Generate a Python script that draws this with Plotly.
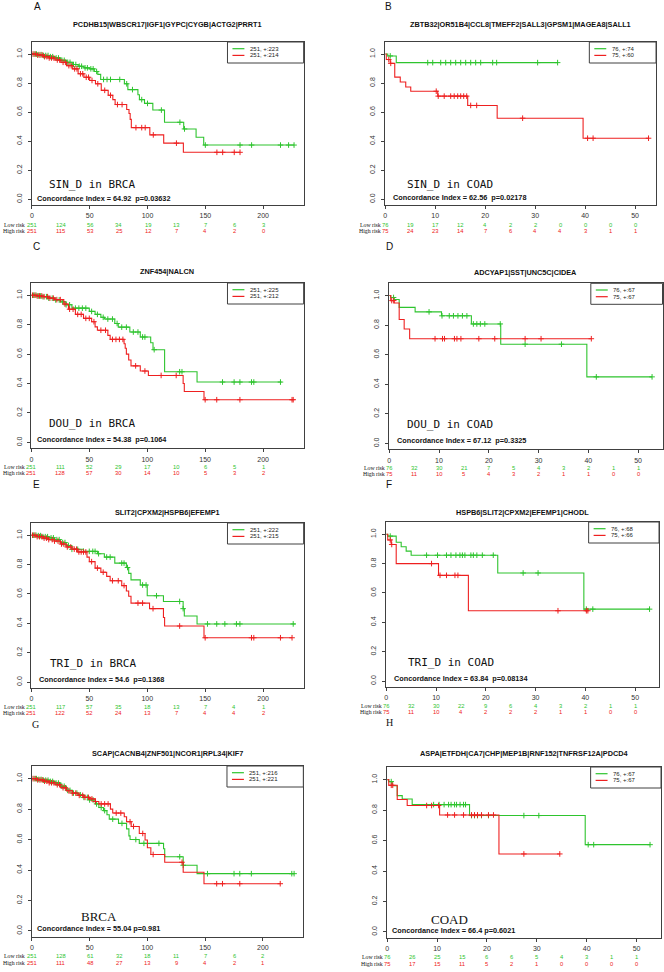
import plotly.graph_objects as go

W, H = 664, 972
GREEN = "#2ec42e"
RED = "#ee2020"
AXC = "#404040"

# ---------------- titles / labels ----------------
TITLES = ["PCDHB15|WBSCR17|IGF1|GYPC|CYGB|ACTG2|PRRT1",
          "ZBTB32|OR51B4|CCL8|TMEFF2|SALL3|GPSM1|MAGEA8|SALL1",
          "ZNF454|NALCN",
          "ADCYAP1|SST|UNC5C|CIDEA",
          "SLIT2|CPXM2|HSPB6|EFEMP1",
          "HSPB6|SLIT2|CPXM2|EFEMP1|CHODL",
          "SCAP|CACNB4|ZNF501|NCOR1|RPL34|KIF7",
          "ASPA|ETFDH|CA7|CHP|MEP1B|RNF152|TNFRSF12A|PDCD4"]
LETTERS = ["A", "B", "C", "D", "E", "F", "G", "H"]
BIG_LABELS = ["SIN_D in BRCA", "SIN_D in COAD", "DOU_D in BRCA", "DOU_D in COAD",
              "TRI_D in BRCA", "TRI_D in COAD", "BRCA", "COAD"]
CI_TEXT = ["Concordance Index = 64.92  p=0.03632",
           "Concordance Index = 62.56  p=0.02178",
           "Concordance Index = 54.38  p=0.1064",
           "Concordance Index = 67.12  p=0.3325",
           "Concordance Index = 54.6  p=0.1368",
           "Concordance Index = 63.84  p=0.08134",
           "Concordance Index = 55.04 p=0.981",
           "Concordance Index = 66.4 p=0.6021"]
LEG_LOW = ["251, +:223", "76, +:74", "251, +:225", "76, +:67",
           "251, +:222", "76, +:68", "251, +:216", "76, +:67"]
LEG_HIGH = ["251, +:214", "75, +:60", "251, +:212", "75, +:67",
            "251, +:215", "75, +:66", "251, +:221", "75, +:67"]

# ---------------- axis ticks ----------------
BRCA_xticks = [0, 50, 100, 150, 200]
COAD_xticks = [0, 10, 20, 30, 40, 50]
Y_ticks = [0.0, 0.2, 0.4, 0.6, 0.8, 1.0]
Y_ticktext = ["0.0", "0.2", "0.4", "0.6", "0.8", "1.0"]
BRCA_risk_t = [0, 25, 50, 75, 100, 125, 150, 175, 200]
COAD_risk_t = [0, 5, 10, 15, 20, 25, 30, 35, 40, 45, 50]

# ---------------- risk tables ----------------
A_risk_low = [251, 124, 56, 34, 19, 13, 7, 6, 3]
A_risk_high = [251, 115, 53, 25, 12, 7, 4, 2, 0]
B_risk_low = [76, 19, 17, 12, 4, 2, 2, 0, 0, 0, 0]
B_risk_high = [75, 24, 23, 14, 7, 6, 4, 4, 3, 1, 1]
C_risk_low = [251, 111, 52, 29, 17, 10, 6, 5, 1]
C_risk_high = [251, 128, 57, 30, 14, 10, 5, 3, 2]
D_risk_low = [76, 32, 30, 21, 7, 5, 4, 3, 2, 1, 1]
D_risk_high = [75, 11, 10, 5, 4, 3, 2, 1, 1, 0, 0]
E_risk_low = [251, 117, 57, 35, 18, 13, 7, 4, 1]
E_risk_high = [251, 122, 52, 24, 13, 7, 4, 4, 2]
F_risk_low = [76, 32, 30, 22, 9, 6, 4, 3, 2, 1, 1]
F_risk_high = [75, 11, 10, 4, 2, 2, 2, 1, 1, 0, 0]
G_risk_low = [251, 128, 61, 32, 18, 11, 7, 6, 2]
G_risk_high = [251, 111, 48, 27, 13, 9, 4, 2, 1]
H_risk_low = [76, 26, 25, 15, 6, 6, 5, 4, 3, 1, 1]
H_risk_high = [75, 17, 15, 11, 5, 2, 1, 0, 0, 0, 0]

# ---------------- survival curves (step times / survival / censor times) ----------------
A_low_t = [0, 5, 10, 15, 20, 25, 30, 35, 40, 45, 50, 54, 57, 59.5, 80, 83, 91.7, 93, 97.4, 104.6, 114.7, 131.3, 142, 148.6, 226.7]
A_low_s = [1.0, 0.996, 0.99, 0.982, 0.973, 0.957, 0.943, 0.928, 0.916, 0.905, 0.898, 0.88, 0.86, 0.825, 0.795, 0.755, 0.72, 0.686, 0.66, 0.614, 0.53, 0.484, 0.427, 0.373, 0.373]
A_low_c = [2, 4, 6, 8, 10, 12, 14, 16, 18, 21, 23, 26, 28, 31, 33, 36, 38, 41, 43, 46, 48, 51, 53, 56, 62, 65, 68, 76, 82, 87, 95, 100, 112, 128, 132, 150, 180, 190, 215, 222, 226.7]
A_high_t = [0, 5, 10, 15, 20, 25, 30, 35, 40, 45, 50, 55, 60, 66, 70, 72, 82, 84, 85, 86, 102, 114, 131, 180]
A_high_s = [1.0, 0.993, 0.982, 0.973, 0.959, 0.943, 0.92, 0.898, 0.864, 0.84, 0.818, 0.795, 0.75, 0.716, 0.686, 0.652, 0.618, 0.59, 0.55, 0.493, 0.443, 0.386, 0.323, 0.323]
A_high_c = [1, 3, 5, 7, 9, 11, 13, 15, 17, 19, 22, 24, 27, 29, 32, 34, 37, 39, 42, 44, 47, 49, 52, 57, 63, 68, 74, 78, 90, 95, 98, 105, 125, 160, 165, 175, 180]

B_low_t = [0, 0.5, 2.2, 34.5]
B_low_s = [1.0, 0.987, 0.941, 0.941]
B_low_c = [1.0, 8.5, 9.5, 11.1, 12.1, 13.1, 14.1, 15.1, 16.1, 17.1, 18.1, 19.1, 21.5, 22.3, 30.5, 34.5]
B_high_t = [0, 0.2, 1.0, 1.9, 3.0, 4.1, 5.1, 10.5, 16.5, 22.4, 39.6, 52.7]
B_high_s = [1.0, 0.962, 0.936, 0.841, 0.807, 0.773, 0.744, 0.71, 0.646, 0.558, 0.42, 0.42]
B_high_c = [0.7, 1.1, 10.2, 10.6, 11.8, 13.1, 13.8, 14.5, 15.1, 15.7, 16.3, 17.1, 18.3, 27.5, 40.5, 41.6, 52.7]

C_low_t = [0, 5, 10, 15, 20, 25, 30, 35, 50, 55, 60, 63, 72, 75, 85, 94, 103, 105, 115, 143, 216]
C_low_s = [1.0, 0.995, 0.99, 0.98, 0.968, 0.955, 0.935, 0.912, 0.89, 0.87, 0.85, 0.838, 0.808, 0.783, 0.75, 0.716, 0.677, 0.63, 0.48, 0.41, 0.41]
C_low_c = [2, 4, 6, 8, 10, 13, 15, 18, 21, 24, 27, 30, 33, 38, 41, 44, 47, 52, 57, 62, 66, 70, 74, 78, 82, 88, 92, 96, 98, 106, 128, 130, 165, 175, 180, 190, 192, 215]
C_high_t = [0, 5, 10, 15, 20, 28, 32, 38, 45, 52, 55, 57, 66, 68, 80, 81, 82, 84, 86, 94, 101, 131, 132, 149, 226]
C_high_s = [1.0, 0.995, 0.99, 0.98, 0.97, 0.94, 0.905, 0.87, 0.843, 0.82, 0.785, 0.762, 0.727, 0.70, 0.67, 0.64, 0.60, 0.56, 0.52, 0.485, 0.455, 0.40, 0.346, 0.29, 0.29]
C_high_c = [1, 3, 5, 7, 9, 11, 14, 16, 19, 22, 25, 29, 33, 36, 40, 43, 47, 50, 54, 60, 64, 70, 73, 76, 79, 90, 98, 112, 125, 150, 160, 180, 225, 226]

D_low_t = [0, 0.3, 1.0, 2.0, 5.2, 10.5, 16.5, 22.4, 39.7, 52.8]
D_low_s = [1.0, 0.987, 0.973, 0.92, 0.89, 0.863, 0.808, 0.671, 0.45, 0.45]
D_low_c = [0.87, 8.0, 10.6, 12.06, 12.9, 13.8, 14.7, 15.6, 16.9, 17.6, 18.3, 19.2, 22.3, 27.3, 34.6, 41.6, 52.8]
D_high_t = [0, 0.3, 1.0, 2.0, 3.0, 4.1, 40.6]
D_high_s = [1.0, 0.966, 0.95, 0.838, 0.774, 0.708, 0.708]
D_high_c = [0.5, 0.9, 9.2, 10.7, 11.1, 13.1, 13.6, 14.4, 18.0, 21.2, 27.3, 30.5, 40.6]

E_low_t = [0, 5, 10, 15, 20, 25, 30, 35, 45, 57, 63, 72, 82, 84, 86, 94, 100, 114, 131, 132, 143, 228]
E_low_s = [1.0, 0.997, 0.99, 0.982, 0.97, 0.95, 0.93, 0.904, 0.89, 0.874, 0.851, 0.81, 0.78, 0.74, 0.696, 0.661, 0.588, 0.549, 0.50, 0.45, 0.396, 0.396]
E_low_c = [2, 4, 6, 8, 10, 12, 14, 17, 19, 22, 24, 27, 29, 32, 35, 40, 45, 50, 53, 55, 58, 65, 68, 78, 80, 83, 96, 99, 108, 128, 131, 152, 160, 167, 177, 180, 226]
E_high_t = [0, 5, 10, 15, 20, 25, 30, 35, 40, 48, 50, 55, 60, 65, 68, 78, 82, 84, 86, 102, 114, 115, 149, 225]
E_high_s = [1.0, 0.99, 0.98, 0.97, 0.96, 0.94, 0.92, 0.905, 0.886, 0.851, 0.82, 0.776, 0.748, 0.72, 0.69, 0.657, 0.62, 0.584, 0.538, 0.50, 0.44, 0.382, 0.302, 0.302]
E_high_c = [1, 3, 5, 7, 9, 11, 13, 15, 18, 20, 23, 26, 28, 31, 34, 37, 39, 41, 43, 45, 47, 52, 57, 62, 70, 75, 80, 92, 96, 105, 128, 150, 190, 192, 215, 225]

F_low_t = [0, 0.3, 2.0, 3.0, 4.0, 5.0, 22.4, 39.7, 52.9]
F_low_s = [1.0, 0.987, 0.945, 0.915, 0.885, 0.857, 0.736, 0.49, 0.49]
F_low_c = [0.8, 8.1, 10.3, 12.1, 13.0, 14.0, 14.8, 15.3, 15.8, 17.0, 17.5, 18.2, 19.3, 21.5, 27.5, 30.5, 40.2, 41.5, 52.9]
F_high_t = [0, 0.3, 1.0, 2.0, 10.5, 16.5, 40.5]
F_high_s = [1.0, 0.961, 0.93, 0.80, 0.72, 0.479, 0.479]
F_high_c = [0.8, 1.1, 9.1, 10.8, 12.1, 13.8, 14.4, 34.5, 40.2, 40.5]

G_low_t = [0, 5, 10, 15, 20, 25, 30, 35, 40, 45, 50, 55, 58, 62, 65, 67, 75, 82, 84, 85, 93, 114, 115, 131, 143, 227]
G_low_s = [1.0, 0.995, 0.99, 0.982, 0.971, 0.95, 0.923, 0.905, 0.894, 0.877, 0.86, 0.834, 0.81, 0.79, 0.763, 0.734, 0.706, 0.67, 0.624, 0.60, 0.575, 0.54, 0.487, 0.431, 0.376, 0.376]
G_low_c = [2, 4, 6, 8, 10, 12, 14, 16, 18, 21, 23, 26, 28, 31, 33, 36, 39, 42, 45, 48, 50, 53, 56, 60, 63, 70, 78, 90, 97, 110, 128, 131, 152, 175, 180, 190, 225, 227]
G_high_t = [0, 5, 10, 15, 20, 25, 30, 35, 40, 45, 50, 55, 58, 68, 70, 80, 82, 86, 93, 98, 100, 103, 115, 131, 149, 215]
G_high_s = [1.0, 0.992, 0.983, 0.973, 0.96, 0.94, 0.92, 0.905, 0.89, 0.877, 0.867, 0.85, 0.834, 0.80, 0.774, 0.75, 0.717, 0.686, 0.64, 0.597, 0.546, 0.502, 0.451, 0.385, 0.31, 0.31]
G_high_c = [1, 3, 5, 7, 9, 11, 13, 15, 17, 19, 22, 24, 27, 29, 32, 35, 38, 41, 44, 46, 49, 52, 55, 60, 63, 66, 73, 77, 85, 88, 96, 105, 130, 160, 165, 180, 215]

H_low_t = [0, 0.3, 1.0, 2.0, 3.0, 5.0, 16.5, 39.7, 52.7]
H_low_s = [1.0, 0.987, 0.96, 0.895, 0.873, 0.836, 0.764, 0.573, 0.573]
H_low_c = [0.8, 9.3, 10.4, 11.4, 12.3, 12.8, 13.5, 13.9, 14.6, 15.3, 15.7, 16.9, 17.5, 18.1, 18.9, 20.3, 27.4, 30.4, 40.3, 41.4, 52.7]
H_high_t = [0, 0.3, 2.0, 4.0, 10.5, 22.4, 34.6]
H_high_s = [1.0, 0.963, 0.87, 0.83, 0.768, 0.512, 0.512]
H_high_c = [0.8, 1.1, 7.9, 8.9, 10.3, 12.1, 13.5, 15.3, 16.9, 17.5, 18.1, 18.9, 20.3, 21.3, 27.4, 34.6]

CURVES = [
    (A_low_t, A_low_s, A_low_c, A_high_t, A_high_s, A_high_c, A_risk_low, A_risk_high),
    (B_low_t, B_low_s, B_low_c, B_high_t, B_high_s, B_high_c, B_risk_low, B_risk_high),
    (C_low_t, C_low_s, C_low_c, C_high_t, C_high_s, C_high_c, C_risk_low, C_risk_high),
    (D_low_t, D_low_s, D_low_c, D_high_t, D_high_s, D_high_c, D_risk_low, D_risk_high),
    (E_low_t, E_low_s, E_low_c, E_high_t, E_high_s, E_high_c, E_risk_low, E_risk_high),
    (F_low_t, F_low_s, F_low_c, F_high_t, F_high_s, F_high_c, F_risk_low, F_risk_high),
    (G_low_t, G_low_s, G_low_c, G_high_t, G_high_s, G_high_c, G_risk_low, G_risk_high),
    (H_low_t, H_low_s, H_low_c, H_high_t, H_high_s, H_high_c, H_risk_low, H_risk_high),
]

# ---------------- layout geometry (pixels) ----------------
GEOM = [
    dict(box=(30, 303, 42, 205), xmax=235, letter=(30, 6), ty=24.5, big=(45, 184.5), ci=(33, 198), risk=(225.3, 231.3), lw=76.5),
    dict(box=(385, 657, 42, 205), xmax=54.2, letter=(383, 6), ty=24.5, big=(405, 184.3), ci=(391, 197.7), risk=(225.3, 231.3), lw=67),
    dict(box=(29.5, 303, 283, 448.3), xmax=235, letter=(29, 246), ty=271.7, big=(45.7, 423.3), ci=(33.3, 440), risk=(466.7, 473.3), lw=76.5),
    dict(box=(389, 663.5, 283.3, 449.3), xmax=54.9, letter=(383.7, 246), ty=272.3, big=(405, 424), ci=(394.3, 440.3), risk=(467.7, 474.3), lw=72),
    dict(box=(29.5, 303, 523, 688), xmax=235, letter=(29.3, 485), ty=512.3, big=(46.7, 663.3), ci=(35, 679.3), risk=(706.7, 713.3), lw=76.5),
    dict(box=(386, 660, 522, 687), xmax=54.8, letter=(383.7, 484), ty=512.3, big=(406, 662.7), ci=(391.3, 678.7), risk=(705.7, 712.3), lw=70.7),
    dict(box=(30, 302.7, 766, 937), xmax=235, letter=(28.3, 724), ty=753.3, big=(77, 916), ci=(33.3, 928), risk=(955.7, 962.7), lw=76.7),
    dict(box=(387, 662, 767, 938), xmax=54.9, letter=(383.7, 722), ty=753.3, big=(428.7, 919.3), ci=(389.7, 930), risk=(957.3, 964), lw=70.7),
]


def fx(x):
    return x / W


def fy(y):
    return 1 - y / H


def surv_at(ts, ss, c):
    v = ss[0]
    for t, s in zip(ts, ss):
        if t <= c:
            v = s
    return v


fig = go.Figure()
annotations = []
shapes = []
SANS = "Liberation Sans, Arial, sans-serif"
SERIF = "Liberation Serif, Times New Roman, serif"
MONO = "DejaVu Sans Mono, monospace"

for i, (g, cur) in enumerate(zip(GEOM, CURVES)):
    n = i + 1
    xa = "x" if n == 1 else f"x{n}"
    ya = "y" if n == 1 else f"y{n}"
    lt, ls, lc, ht, hs, hc, rl, rh = cur
    brca = (i % 2 == 0)
    x0, x1, y0, y1 = g["box"]

    for ts, ss, cs, col in ((lt, ls, lc, GREEN), (ht, hs, hc, RED)):
        fig.add_trace(go.Scatter(x=ts, y=ss, mode="lines", xaxis=xa, yaxis=ya,
                                 line=dict(color=col, width=1.1, shape="hv"),
                                 showlegend=False, hoverinfo="skip"))
        fig.add_trace(go.Scatter(x=cs, y=[surv_at(ts, ss, c) for c in cs], mode="markers",
                                 xaxis=xa, yaxis=ya,
                                 marker=dict(symbol="cross-thin", size=4, color=col,
                                             line=dict(color=col, width=1)),
                                 showlegend=False, hoverinfo="skip"))

    xkey = "xaxis" if n == 1 else f"xaxis{n}"
    ykey = "yaxis" if n == 1 else f"yaxis{n}"
    fig.layout[xkey] = dict(domain=[fx(x0), fx(x1)], range=[0, g["xmax"]], anchor=ya,
                            tickvals=BRCA_xticks if brca else COAD_xticks,
                            ticks="outside", ticklen=3, tickwidth=1, tickcolor=AXC,
                            showline=True, mirror=True, linecolor=AXC, linewidth=1,
                            showgrid=False, zeroline=False,
                            tickfont=dict(family=SANS, size=7, color="#333"),
                            ticklabelstandoff=1, fixedrange=True)
    fig.layout[ykey] = dict(domain=[fy(y1), fy(y0)], range=[-0.04, 1.083], anchor=xa,
                            tickvals=Y_ticks, ticktext=Y_ticktext, tickangle=-90,
                            ticks="outside", ticklen=3, tickwidth=1, tickcolor=AXC,
                            showline=True, mirror=True, linecolor=AXC, linewidth=1,
                            showgrid=False, zeroline=False,
                            tickfont=dict(family=SANS, size=7, color="#333"),
                            ticklabelstandoff=3, fixedrange=True)

    lx, ly = g["letter"]
    annotations.append(dict(text=LETTERS[i], x=fx(lx), y=fy(ly), xref="paper", yref="paper",
                            xanchor="left", yanchor="middle", showarrow=False,
                            font=dict(family=SERIF if i >= 6 else SANS, size=10, color="#111")))
    annotations.append(dict(text="<b>" + TITLES[i] + "</b>", x=fx((x0 + x1) / 2), y=fy(g["ty"]),
                            xref="paper", yref="paper", xanchor="center", yanchor="middle",
                            showarrow=False, font=dict(family=SANS, size=7.3, color="#111")))
    bx, by = g["big"]
    annotations.append(dict(text=BIG_LABELS[i], x=fx(bx), y=fy(by), xref="paper", yref="paper",
                            xanchor="left", yanchor="middle", showarrow=False,
                            font=dict(family=SERIF if i >= 6 else MONO, size=13 if i >= 6 else 11,
                                      color="#111")))
    cx, cy = g["ci"]
    annotations.append(dict(text="<b>" + CI_TEXT[i] + "</b>", x=fx(cx), y=fy(cy), xref="paper",
                            yref="paper", xanchor="left", yanchor="middle", showarrow=False,
                            font=dict(family=SANS, size=7.3, color="#111")))
    lw = g["lw"]
    lx0 = x1 - lw
    shapes.append(dict(type="rect", xref="paper", yref="paper", x0=fx(lx0), x1=fx(x1),
                       y0=fy(y0 + 21), y1=fy(y0), line=dict(color=AXC, width=1),
                       fillcolor="white", layer="above"))
    for k, (lab, col) in enumerate(((LEG_LOW[i], GREEN), (LEG_HIGH[i], RED))):
        yy = y0 + 6.7 + k * 6.7
        shapes.append(dict(type="line", xref="paper", yref="paper", x0=fx(lx0 + 5), x1=fx(lx0 + 17),
                           y0=fy(yy), y1=fy(yy), line=dict(color=col, width=1.2), layer="above"))
        annotations.append(dict(text=lab, x=fx(lx0 + 20.5), y=fy(yy), xref="paper", yref="paper",
                                xanchor="left", yanchor="middle", showarrow=False,
                                font=dict(family=SANS, size=6, color="#222")))
    rt = BRCA_risk_t if brca else COAD_risk_t
    ry_low, ry_high = g["risk"]
    lab_right = 23.8 if brca else (x0 - 3.6)
    for lab, ry in (("Low risk", ry_low), ("High risk", ry_high)):
        annotations.append(dict(text=lab, x=fx(lab_right), y=fy(ry), xref="paper", yref="paper",
                                xanchor="right", yanchor="middle", showarrow=False, borderpad=0,
                                font=dict(family=SERIF, size=5.8, color="#111")))
    for vals, ry, col in ((rl, ry_low, GREEN), (rh, ry_high, RED)):
        for t, v in zip(rt, vals):
            annotations.append(dict(text=str(v), x=t, y=fy(ry), xref=xa, yref="paper",
                                    xanchor="center", yanchor="middle", showarrow=False, borderpad=0,
                                    font=dict(family=SANS, size=5.8, color=col)))

fig.update_layout(width=W, height=H, margin=dict(l=0, r=0, t=0, b=0),
                  paper_bgcolor="white", plot_bgcolor="white",
                  annotations=annotations, shapes=shapes, showlegend=False)

fig.write_html("out.html", config={"displayModeBar": False, "staticPlot": True},
               post_script="document.body.style.margin='0px';document.body.style.overflow='hidden';")
